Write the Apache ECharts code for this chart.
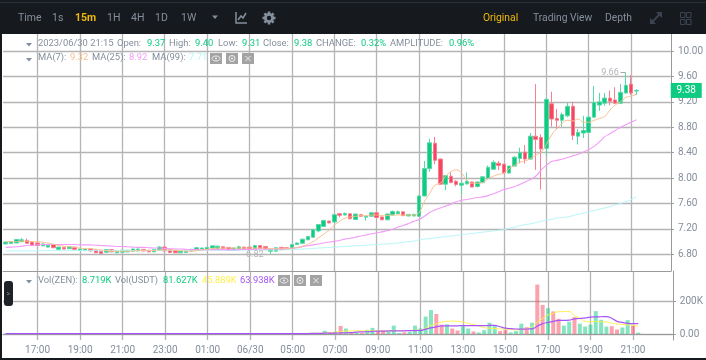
<!DOCTYPE html>
<html>
<head>
<meta charset="utf-8">
<style>
  html, body { margin: 0; padding: 0; background: #fff; }
  #chart { width: 706px; height: 360px; }
</style>
<script src="https://cdn.jsdelivr.net/npm/echarts@6/dist/echarts.min.js"></script>
</head>
<body>
<div id="chart"></div>
<script>
// 15m candles, one slot per quarter hour, 6 empty slots to the right
const categories = [
  '15:30','15:45','16:00','16:15','16:30','16:45','17:00','17:15','17:30','17:45',
  '18:00','18:15','18:30','18:45','19:00','19:15','19:30','19:45','20:00','20:15',
  '20:30','20:45','21:00','21:15','21:30','21:45','22:00','22:15','22:30','22:45',
  '23:00','23:15','23:30','23:45','00:00','00:15','00:30','00:45','01:00','01:15',
  '01:30','01:45','02:00','02:15','02:30','02:45','06/30','03:15','03:30','03:45',
  '04:00','04:15','04:30','04:45','05:00','05:15','05:30','05:45','06:00','06:15',
  '06:30','06:45','07:00','07:15','07:30','07:45','08:00','08:15','08:30','08:45',
  '09:00','09:15','09:30','09:45','10:00','10:15','10:30','10:45','11:00','11:15',
  '11:30','11:45','12:00','12:15','12:30','12:45','13:00','13:15','13:30','13:45',
  '14:00','14:15','14:30','14:45','15:00','15:15','15:30','15:45','16:00','16:15',
  '16:30','16:45','17:00','17:15','17:30','17:45','18:00','18:15','18:30','18:45',
  '19:00','19:15','19:30','19:45','20:00','20:15','20:30','20:45','21:00','21:15',
  '21:30','21:45','22:00','22:15','22:30','22:45'
];

const opens = [
  6.965,6.97,6.98,7.00,7.02,6.995,6.98,6.935,6.915,6.955,
  6.88,6.91,6.89,6.915,6.865,6.86,6.885,6.87,6.85,6.835,
  6.875,6.825,6.835,6.84,6.85,6.855,6.88,6.865,6.84,6.865,
  6.915,6.875,6.865,6.825,6.83,6.855,6.865,6.87,6.875,6.90,
  6.895,6.92,6.91,6.865,6.885,6.915,6.915,6.885,6.94,6.925,
  6.85,6.85,6.91,6.905,6.885,6.955,6.975,7.03,7.07,7.17,
  7.24,7.325,7.31,7.44,7.42,7.44,7.35,7.425,7.385,7.40,
  7.455,7.39,7.345,7.42,7.44,7.47,7.405,7.405,7.40,7.72,
  8.15,8.55,8.30,7.905,8.03,7.95,7.89,7.91,7.94,7.87,
  7.93,8.00,8.14,8.235,8.22,8.08,8.19,8.31,8.41,8.30,
  8.66,8.64,8.47,9.17,8.94,8.91,8.98,9.13,8.66,8.71,
  8.72,8.96,9.15,9.18,9.26,9.23,9.18,9.34,9.48,9.37
];
const closes = [
  6.995,7.00,7.035,7.03,6.975,6.94,6.94,6.965,6.945,6.905,
  6.915,6.885,6.92,6.88,6.885,6.885,6.855,6.825,6.815,6.875,
  6.84,6.85,6.865,6.865,6.885,6.885,6.855,6.84,6.88,6.915,
  6.855,6.83,6.825,6.85,6.855,6.88,6.905,6.90,6.91,6.935,
  6.93,6.89,6.865,6.90,6.92,6.885,6.88,6.94,6.89,6.875,
  6.88,6.905,6.875,6.88,6.955,6.98,7.04,7.08,7.19,7.27,
  7.335,7.295,7.425,7.415,7.445,7.36,7.435,7.40,7.40,7.455,
  7.38,7.345,7.435,7.475,7.47,7.41,7.43,7.43,7.72,8.15,
  8.556,8.28,7.905,8.04,7.93,7.90,7.92,7.95,7.86,7.94,
  8.02,8.17,8.25,8.20,8.08,8.19,8.33,8.40,8.30,8.66,
  8.61,8.46,9.24,8.93,8.91,9.00,9.13,8.67,8.72,8.75,
  8.96,9.19,9.20,9.26,9.21,9.18,9.35,9.46,9.34,9.38
];
const lows = [
  6.96,6.965,6.975,6.995,6.97,6.93,6.935,6.93,6.91,6.90,
  6.875,6.88,6.885,6.875,6.86,6.855,6.85,6.82,6.81,6.83,
  6.835,6.82,6.83,6.835,6.845,6.85,6.85,6.835,6.835,6.86,
  6.85,6.825,6.82,6.82,6.825,6.85,6.86,6.865,6.87,6.895,
  6.89,6.885,6.86,6.86,6.88,6.88,6.875,6.88,6.885,6.87,
  6.81,6.845,6.87,6.875,6.88,6.95,6.97,7.025,7.06,7.15,
  7.235,7.29,7.305,7.385,7.415,7.355,7.345,7.395,7.33,7.395,
  7.375,7.34,7.34,7.415,7.435,7.405,7.40,7.40,7.395,7.71,
  8.10,8.22,7.90,7.81,7.92,7.87,7.75,7.90,7.855,7.85,
  7.92,7.995,8.13,8.13,8.07,8.07,8.18,8.23,8.23,8.29,
  8.13,7.82,8.35,8.81,8.77,8.81,8.96,8.60,8.53,8.63,
  8.71,8.95,9.06,9.14,9.15,9.17,9.17,9.33,9.31,9.31
];
const highs = [
  7.00,7.01,7.04,7.06,7.05,7.01,6.985,6.97,6.95,6.96,
  6.92,6.915,6.925,6.92,6.89,6.89,6.89,6.875,6.855,6.88,
  6.88,6.855,6.87,6.87,6.89,6.89,6.885,6.87,6.885,6.93,
  6.93,6.88,6.87,6.855,6.86,6.885,6.91,6.905,6.915,6.94,
  6.935,6.925,6.915,6.905,6.935,6.92,6.92,6.945,6.945,6.93,
  6.885,6.91,6.915,6.91,6.96,6.985,7.045,7.085,7.195,7.275,
  7.34,7.33,7.43,7.45,7.46,7.445,7.44,7.43,7.41,7.47,
  7.46,7.395,7.44,7.49,7.49,7.475,7.435,7.44,7.725,8.27,
  8.62,8.65,8.31,8.05,8.09,7.97,7.93,8.09,7.945,7.945,
  8.03,8.20,8.28,8.27,8.225,8.195,8.345,8.48,8.52,8.71,
  9.48,8.69,9.25,9.36,9.09,9.03,9.19,9.20,8.77,8.98,
  8.99,9.45,9.34,9.34,9.38,9.43,9.48,9.66,9.62,9.40
];

const ma7 = [
  7.00,7.00,7.00,7.01,7.01,7.00,7.00,6.99,6.98,6.96,
  6.94,6.93,6.92,6.91,6.90,6.89,6.89,6.88,6.87,6.86,
  6.85,6.85,6.85,6.85,6.85,6.86,6.86,6.86,6.86,6.87,
  6.87,6.87,6.86,6.86,6.85,6.85,6.86,6.87,6.88,6.89,
  6.90,6.90,6.90,6.90,6.90,6.90,6.90,6.90,6.90,6.90,
  6.89,6.89,6.89,6.89,6.90,6.91,6.93,6.96,7.00,7.06,
  7.12,7.18,7.26,7.32,7.37,7.39,7.40,7.41,7.41,7.42,
  7.42,7.41,7.41,7.42,7.42,7.42,7.42,7.42,7.46,7.63,
  7.76,7.89,7.92,8.03,8.10,8.13,8.08,7.97,7.92,7.92,
  7.93,7.99,8.03,8.06,8.08,8.15,8.20,8.25,8.27,8.31,
  8.36,8.41,8.53,8.68,8.78,8.86,8.91,8.90,8.93,8.88,
  8.88,8.91,8.94,8.97,9.07,9.15,9.20,9.27,9.29,9.32
];
const ma25 = [
  6.91,6.915,6.92,6.93,6.94,6.945,6.95,6.955,6.955,6.955,
  6.955,6.955,6.955,6.955,6.95,6.95,6.95,6.945,6.94,6.935,
  6.93,6.925,6.925,6.92,6.915,6.91,6.91,6.905,6.90,6.90,
  6.895,6.89,6.885,6.885,6.88,6.875,6.875,6.875,6.875,6.875,
  6.875,6.875,6.875,6.875,6.875,6.88,6.88,6.88,6.885,6.885,
  6.885,6.885,6.89,6.89,6.895,6.905,6.92,6.935,6.95,6.965,
  6.98,6.995,7.005,7.02,7.04,7.055,7.07,7.09,7.105,7.125,
  7.14,7.155,7.175,7.195,7.23,7.255,7.285,7.32,7.35,7.40,
  7.46,7.50,7.53,7.56,7.59,7.63,7.65,7.665,7.68,7.695,
  7.705,7.725,7.755,7.785,7.82,7.84,7.87,7.90,7.94,7.98,
  8.03,8.125,8.20,8.26,8.28,8.30,8.325,8.35,8.375,8.41,
  8.45,8.50,8.57,8.65,8.70,8.75,8.80,8.84,8.88,8.92
];
const ma99 = [
  6.855,6.855,6.855,6.855,6.855,6.855,6.855,6.86,6.86,6.86,
  6.86,6.86,6.86,6.86,6.86,6.86,6.86,6.86,6.86,6.86,
  6.86,6.86,6.86,6.86,6.86,6.865,6.865,6.865,6.865,6.865,
  6.865,6.865,6.865,6.865,6.865,6.865,6.865,6.865,6.865,6.865,
  6.865,6.865,6.865,6.865,6.865,6.865,6.87,6.87,6.87,6.87,
  6.87,6.87,6.87,6.875,6.875,6.88,6.885,6.89,6.895,6.90,
  6.905,6.91,6.915,6.92,6.925,6.93,6.935,6.94,6.945,6.95,
  6.955,6.96,6.965,6.97,6.98,6.99,7.00,7.01,7.03,7.04,
  7.05,7.06,7.07,7.08,7.09,7.10,7.11,7.12,7.13,7.14,
  7.15,7.16,7.17,7.18,7.19,7.21,7.23,7.25,7.27,7.28,
  7.30,7.32,7.34,7.35,7.37,7.38,7.39,7.41,7.43,7.45,
  7.47,7.49,7.51,7.53,7.55,7.58,7.60,7.63,7.66,7.71
];

// volume in thousands
const volumes = [
  3,2,4,3,4,5,4,2,2,3,
  2,3,2,3,2,2,3,4,3,2,
  3,2,2,2,2,2,3,3,2,3,
  5,4,3,2,2,2,2,2,2,2,
  2,3,3,2,2,3,3,2,3,3,
  3,2,3,3,4,3,4,3,5,6,
  20,10,14,50,34,12,8,6,26,38,
  18,22,16,52,6,10,14,52,34,108,
  148,124,58,60,34,22,48,34,16,10,
  24,70,50,18,24,10,18,64,42,70,
  306,180,160,140,94,52,76,104,64,46,
  58,142,88,46,48,28,40,86,54,8.7
];
const volMaYellow = [
  3,3,3,3,3,3,3,3,3,3,
  3,3,3,3,3,3,3,3,3,3,
  3,3,3,3,3,3,3,3,3,3,
  3,3,3,3,3,3,3,3,3,3,
  3,3,3,3,3,3,3,3,3,3,
  3,3,3,3,3,3,4,4,4,5,
  6,8,12,14,18,19,20,20,20,20,
  20,20,20,21,21,21,22,23,24,36,
  54,64,74,78,80,78,74,66,58,50,
  40,36,34,32,30,28,26,28,32,46,
  74,95,118,128,138,139,140,114,98,78,
  76,78,76,74,68,62,60,56,54,46
];
const volMaPurple = [
  2,2,2,2,2,2,2,2,2,2,
  2,2,2,2,2,2,2,2,2,2,
  2,2,2,2,2,2,2,2,2,2,
  2,2,2,2,2,2,2,2,2,2,
  2,2,2,2,2,2,2,2,2,2,
  2,2,2,2,3,3,3,3,4,4,
  5,6,6,7,8,9,12,13,14,16,
  18,18,19,19,20,20,21,21,22,30,
  38,44,50,50,51,51,52,52,52,52,
  52,53,54,45,36,33,31,30,31,32,
  48,64,72,78,84,84,86,94,96,100,
  104,106,107,108,98,78,72,66,64,63.9
];

const priceTicks = [6.8, 7.2, 7.6, 8.0, 8.4, 8.8, 9.2, 9.6, 10.0];
const volTicks = [0, 200];
const periods = ['Time','1s','15m','1H','4H','1D','1W'];
const views = ['Original','Trading View','Depth'];

const GREEN = '#0ecb81', RED = '#f6465d', GREY = '#848e9c', ORANGE = '#f0b90b', DARK = '#161a1e';
const MA7C = '#fac08f', MA25C = '#f29cf8', MA99C = '#b4f6f9', VOLY = '#fff04f', VOLP = '#a855f7';
const FONT = 'Roboto, sans-serif';

const candleData = opens.map((o, i) => [o, closes[i], lows[i], highs[i]]);
const volData = volumes.map((v, i) => ({
  value: v,
  itemStyle: { color: closes[i] >= opens[i] ? GREEN : RED, opacity: 0.5 }
}));

const isMajor = (i) => i % 8 === 6;

// chrome helpers
function txt(x, y, text, fill, size, weight) {
  return { type: 'text', silent: true, z: 100, x: x, y: y,
    style: { text: text, fill: fill || GREY, font: (weight || 'normal') + ' ' + (size || 9.4) + 'px ' + FONT, verticalAlign: 'middle' } };
}
function tri(x, y) {
  return { type: 'polygon', silent: true, z: 100, shape: { points: [[x, y], [x + 6, y], [x + 3, y + 3.5]] }, style: { fill: GREY } };
}
function btn(x, y, kind) {
  const els = [{ type: 'rect', silent: true, z: 100, shape: { x: x, y: y, width: 12, height: 11 }, style: { fill: '#a3a3a3' } }];
  if (kind === 'x') {
    els.push({ type: 'line', silent: true, z: 101, shape: { x1: x + 3.5, y1: y + 3, x2: x + 8.5, y2: y + 8 }, style: { stroke: '#eee' } });
    els.push({ type: 'line', silent: true, z: 101, shape: { x1: x + 8.5, y1: y + 3, x2: x + 3.5, y2: y + 8 }, style: { stroke: '#eee' } });
  } else if (kind === 'eye') {
    els.push({ type: 'ellipse', silent: true, z: 101, shape: { cx: x + 6, cy: y + 5.5, rx: 4, ry: 2.5 }, style: { fill: 'none', stroke: '#eee' } });
    els.push({ type: 'circle', silent: true, z: 101, shape: { cx: x + 6, cy: y + 5.5, r: 1 }, style: { fill: '#eee' } });
  } else {
    els.push({ type: 'circle', silent: true, z: 101, shape: { cx: x + 6, cy: y + 5.5, r: 3 }, style: { fill: 'none', stroke: '#eee' } });
    els.push({ type: 'circle', silent: true, z: 101, shape: { cx: x + 6, cy: y + 5.5, r: 1 }, style: { fill: '#eee' } });
  }
  return els;
}
function gear(cx, cy) {
  const els = [{ type: 'ring', silent: true, z: 100, shape: { cx: cx, cy: cy, r: 5, r0: 2.2 }, style: { fill: GREY } }];
  [0, 1, 2, 3].forEach((k) => {
    els.push({ type: 'rect', silent: true, z: 100, x: cx, y: cy, rotation: k * Math.PI / 4,
      shape: { x: -1.3, y: -6.5, width: 2.6, height: 2.5 }, style: { fill: GREY } });
    els.push({ type: 'rect', silent: true, z: 100, x: cx, y: cy, rotation: k * Math.PI / 4,
      shape: { x: -1.3, y: 4, width: 2.6, height: 2.5 }, style: { fill: GREY } });
  });
  return els;
}

const periodX = [18, 52, 75, 107, 131, 155, 181];
const viewX = [483, 533, 605];
const graphics = [
  { type: 'rect', silent: true, z: 90, shape: { x: 0, y: 0, width: 706, height: 34 }, style: { fill: DARK } },
  { type: 'rect', silent: true, z: 91, shape: { x: 0, y: 2, width: 706, height: 1 }, style: { fill: '#2b3139' } },
  { type: 'rect', silent: true, z: 90, shape: { x: 0, y: 34, width: 2, height: 326 }, style: { fill: DARK } },
  { type: 'rect', silent: true, z: 90, shape: { x: 0, y: 358, width: 706, height: 2 }, style: { fill: DARK } },
  { type: 'rect', silent: true, z: 90, shape: { x: 4, y: 281, width: 9, height: 25, r: 3 }, style: { fill: '#1e2329' } },
  txt(6.5, 294, '>', '#848e9c', 7),
  tri(212, 15.5),
  // chart type icon
  { type: 'polyline', silent: true, z: 100, shape: { points: [[236, 12], [236, 23], [247, 23]] }, style: { stroke: GREY, fill: 'none', lineWidth: 1.5 } },
  { type: 'polyline', silent: true, z: 100, shape: { points: [[238, 20], [241, 16], [243, 18], [246, 13]] }, style: { stroke: GREY, fill: 'none', lineWidth: 1.5 } },
  ...gear(269, 18),
  // expand icon
  { type: 'line', silent: true, z: 100, shape: { x1: 651, y1: 23, x2: 661, y2: 13 }, style: { stroke: '#3c4350', lineWidth: 2 } },
  { type: 'polygon', silent: true, z: 100, shape: { points: [[656, 12], [662, 12], [662, 18]] }, style: { fill: '#3c4350' } },
  { type: 'polygon', silent: true, z: 100, shape: { points: [[650, 18], [650, 24], [656, 24]] }, style: { fill: '#3c4350' } },
  // grid icon
  ...[[680, 12], [686, 12], [680, 19], [686, 19]].map((p) => ({ type: 'rect', silent: true, z: 100,
    shape: { x: p[0] + 0.5, y: p[1] + 0.5, width: 4.5, height: 5 }, style: { fill: 'none', stroke: '#3c4350' } })),
  ...periods.map((p, i) => txt(periodX[i], 18, p, p === '15m' ? ORANGE : GREY, 10.5, p === '15m' ? 'bold' : 'normal')),
  ...views.map((p, i) => txt(viewX[i], 18, p, p === 'Original' ? ORANGE : GREY, 10.3)),
  tri(26, 43), tri(26, 58), tri(26, 280),
  // row 1
  txt(38, 44, '2023/06/30 21:15'), txt(117, 44, 'Open:'), txt(147, 44, '9.37', GREEN),
  txt(169, 44, 'High:'), txt(195, 44, '9.40', GREEN), txt(218, 44, 'Low:'), txt(242, 44, '9.31', GREEN),
  txt(263, 44, 'Close:'), txt(294, 44, '9.38', GREEN), txt(316, 44, 'CHANGE:'), txt(361, 44, '0.32%', GREEN),
  txt(390, 44, 'AMPLITUDE:'), txt(449, 44, '0.96%', GREEN),
  // row 2
  txt(38, 58, 'MA(7):'), txt(70, 58, '9.32', MA7C), txt(92, 58, 'MA(25):'), txt(129, 58, '8.92', MA25C),
  txt(152, 58, 'MA(99):'), txt(189, 58, '7.71', MA99C),
  ...btn(210, 53, 'eye'), ...btn(226, 53, 'cog'), ...btn(242, 53, 'x'),
  // volume row
  txt(38, 281, 'Vol(ZEN):'), txt(82, 281, '8.719K', GREEN), txt(115, 281, 'Vol(USDT)'),
  txt(163, 281, '81.627K', GREEN), txt(202, 281, '45.889K', VOLY), txt(240, 281, '63.938K', VOLP),
  ...btn(278, 275, 'eye'), ...btn(294, 275, 'cog'), ...btn(310, 275, 'x')
];

const gridStyle = { color: '#b4b4b4', width: 1.3 };
const axisColor = '#9a9a9a';
const option = {
  animation: false,
  backgroundColor: '#fff',
  textStyle: { fontFamily: FONT },
  graphic: graphics,
  grid: [
    { left: 3, right: 31, top: 34, height: 237 },
    { left: 3, right: 31, top: 271, height: 69 }
  ],
  xAxis: [
    { type: 'category', gridIndex: 0, data: categories, boundaryGap: true,
      axisLine: { show: true, lineStyle: { color: axisColor } }, axisTick: { show: false }, axisLabel: { show: false },
      splitLine: { show: true, alignWithLabel: true, interval: isMajor, lineStyle: gridStyle } },
    { type: 'category', gridIndex: 1, data: categories, boundaryGap: true,
      axisLine: { show: true, lineStyle: { color: axisColor } },
      axisTick: { show: false, alignWithLabel: true, interval: isMajor },
      axisLabel: { show: true, interval: isMajor, color: GREY, fontSize: 10, margin: 5 },
      splitLine: { show: true, alignWithLabel: true, interval: isMajor, lineStyle: gridStyle } }
  ],
  yAxis: [
    { type: 'value', gridIndex: 0, position: 'right', scale: true, min: 6.539, max: 10.268,
      axisLine: { show: true, lineStyle: { color: axisColor } },
      axisTick: { show: true, length: 3, customValues: priceTicks, lineStyle: { color: axisColor } },
      axisLabel: { show: true, customValues: priceTicks, color: GREY, fontSize: 10, margin: 7, formatter: (v) => v.toFixed(2) },
      splitLine: { show: true, lineStyle: gridStyle } },
    { type: 'value', gridIndex: 1, position: 'right', min: -37, max: 390,
      axisLine: { show: true, lineStyle: { color: axisColor } },
      axisTick: { show: true, length: 3, customValues: volTicks, lineStyle: { color: axisColor } },
      axisLabel: { show: true, customValues: volTicks, color: GREY, fontSize: 10, margin: 7, formatter: (v) => v === 0 ? '0.00' : v + 'K' },
      splitLine: { show: true, lineStyle: gridStyle } }
  ],
  series: [
    { name: 'MA(99)', type: 'line', data: ma99, showSymbol: false, smooth: true, z: 3, lineStyle: { color: MA99C, width: 1 } },
    { name: 'MA(25)', type: 'line', data: ma25, showSymbol: false, smooth: true, z: 3, lineStyle: { color: MA25C, width: 1.1 } },
    { name: 'Kline', type: 'candlestick', data: candleData, barWidth: 4, z: 2,
      itemStyle: { color: GREEN, color0: RED, borderColor: '#55d9a6', borderColor0: '#f97f90', borderWidth: 1 },
      markPoint: {
        silent: true, animation: false,
        data: [
          { coord: [125, closes[119]], symbol: 'rect', symbolSize: [31, 15], symbolOffset: [18, 0],
            itemStyle: { color: GREEN },
            label: { show: true, formatter: '9.38', color: '#fff', fontSize: 10 } },
          { coord: [114, 9.66], symbol: 'rect', symbolSize: 0,
            label: { show: true, formatter: '9.66', color: '#b0b4ba', fontSize: 9 } },
          { coord: [47, 6.8], symbol: 'rect', symbolSize: 0,
            label: { show: true, formatter: '6.82', color: '#b0b4ba', fontSize: 9 } }
        ]
      },
      markLine: {
        silent: true, animation: false, symbol: 'none', label: { show: false },
        lineStyle: { color: '#a8a8a8', width: 1, type: 'solid' },
        data: [[{ coord: [115.5, 9.66] }, { coord: [117, 9.66] }]]
      }
    },
    { name: 'MA(7)', type: 'line', data: ma7, showSymbol: false, smooth: true, z: 3, lineStyle: { color: MA7C, width: 1 } },
    { name: 'Vol', type: 'bar', xAxisIndex: 1, yAxisIndex: 1, data: volData, barWidth: 4, z: 2 },
    { name: 'VolMa1', type: 'line', xAxisIndex: 1, yAxisIndex: 1, data: volMaYellow, showSymbol: false, smooth: true, z: 3, lineStyle: { color: VOLY, width: 1 } },
    { name: 'VolMa2', type: 'line', xAxisIndex: 1, yAxisIndex: 1, data: volMaPurple, showSymbol: false, smooth: true, z: 4, lineStyle: { color: VOLP, width: 1.2 } }
  ]
};

const chart = echarts.init(document.getElementById('chart'));
chart.setOption(option);
</script>
</body>
</html>
